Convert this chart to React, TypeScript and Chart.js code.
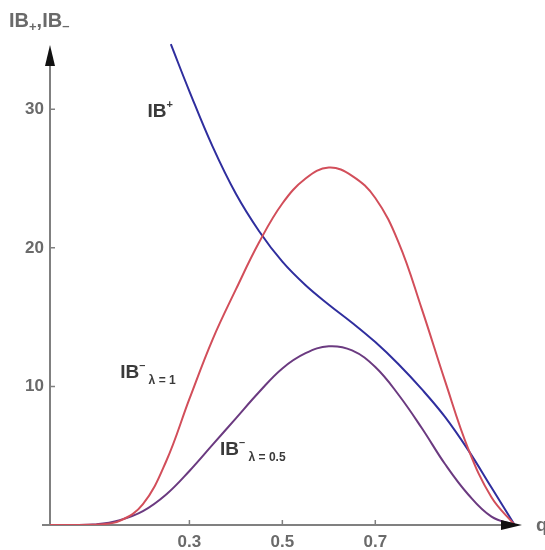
import { useEffect, useRef } from "react";
import { Chart, registerables } from "chart.js";

Chart.register(...registerables);

// q grid for the IB^- curves
const qGrid = [0, 0.05, 0.1, 0.15, 0.2, 0.25, 0.3, 0.35, 0.4, 0.45, 0.5, 0.55, 0.6, 0.65, 0.7, 0.75, 0.8, 0.85, 0.9, 0.95, 1.0];
const ibMinusLambda1 = [0, 0, 0.03, 0.3, 1.5, 4.6, 9.1, 13.4, 17.0, 20.4, 23.2, 25.0, 25.8, 25.2, 23.6, 20.4, 15.6, 10.4, 5.5, 2.0, 0];
const ibMinusLambda05 = [0, 0, 0.05, 0.35, 1.0, 2.2, 3.9, 5.8, 7.7, 9.6, 11.3, 12.4, 12.9, 12.6, 11.4, 9.4, 7.0, 4.4, 2.2, 0.6, 0];

// q grid for the IB^+ curve (enters the plot from the top)
const qPlus = [0.26, 0.3, 0.35, 0.4, 0.45, 0.5, 0.55, 0.6, 0.65, 0.7, 0.75, 0.8, 0.85, 0.9, 0.95, 1.0];
const ibPlus = [34.7, 31.3, 27.3, 23.9, 21.2, 19.0, 17.3, 15.9, 14.6, 13.2, 11.6, 9.8, 7.8, 5.4, 2.7, 0];

const xTicks = [0.3, 0.5, 0.7];
const yTicks = [10, 20, 30];

const FONT = "'Liberation Sans', Arial, Helvetica, sans-serif";
const AXIS_GRAY = "#808080";
const LABEL_GRAY = "#6a6a6a";
const TEXT_DARK = "#3a3a3a";

type Part = { t: string; size: number; dy: number; bold?: boolean };

function drawRich(ctx: CanvasRenderingContext2D, x: number, y: number, parts: Part[], color: string) {
  ctx.save();
  ctx.fillStyle = color;
  ctx.textBaseline = "middle";
  ctx.textAlign = "left";
  let cx = x;
  for (const p of parts) {
    ctx.font = `${p.bold === false ? "" : "bold "}${p.size}px ${FONT}`;
    ctx.fillText(p.t, cx, y + p.dy);
    cx += ctx.measureText(p.t).width;
  }
  ctx.restore();
}

const decorPlugin = {
  id: "decor",
  beforeDatasetsDraw(chart: any) {
    const { ctx, scales } = chart;
    const xs = scales.x;
    const ys = scales.y;
    const x0 = xs.getPixelForValue(0);
    const y0 = ys.getPixelForValue(0);
    ctx.save();
    ctx.strokeStyle = AXIS_GRAY;
    ctx.lineWidth = 2;
    ctx.beginPath();
    ctx.moveTo(x0, y0 + 1);
    ctx.lineTo(x0, 62);
    ctx.moveTo(x0 - 8, y0);
    ctx.lineTo(506, y0);
    ctx.stroke();
    ctx.lineWidth = 1.5;
    ctx.beginPath();
    for (const v of yTicks) {
      const py = ys.getPixelForValue(v);
      ctx.moveTo(x0, py);
      ctx.lineTo(x0 + 5, py);
    }
    for (const v of xTicks) {
      const px = xs.getPixelForValue(v);
      ctx.moveTo(px, y0);
      ctx.lineTo(px, y0 - 5);
    }
    ctx.stroke();
    ctx.restore();
  },
  afterDatasetsDraw(chart: any) {
    const { ctx, scales } = chart;
    const x0 = scales.x.getPixelForValue(0);
    const y0 = scales.y.getPixelForValue(0);
    ctx.save();
    ctx.fillStyle = "#111";
    ctx.beginPath();
    ctx.moveTo(x0, 45);
    ctx.lineTo(x0 - 5, 66);
    ctx.lineTo(x0 + 5, 66);
    ctx.closePath();
    ctx.fill();
    ctx.beginPath();
    ctx.moveTo(522, y0);
    ctx.lineTo(501, y0 - 5);
    ctx.lineTo(501, y0 + 5);
    ctx.closePath();
    ctx.fill();
    ctx.restore();
  },
  afterDraw(chart: any) {
    const { ctx, scales } = chart;
    const xs = scales.x;
    const ys = scales.y;
    drawRich(ctx, 9, 21, [
      { t: "IB", size: 20, dy: 0 },
      { t: "+", size: 13, dy: 6 },
      { t: ",", size: 20, dy: 0 },
      { t: "IB", size: 20, dy: 0 },
      { t: "\u2013", size: 13, dy: 5 },
    ], LABEL_GRAY);
    drawRich(ctx, 536, ys.getPixelForValue(0) + 1, [{ t: "q", size: 19, dy: 0 }], LABEL_GRAY);

    drawRich(ctx, xs.getPixelForValue(0.21), ys.getPixelForValue(29.8), [
      { t: "IB", size: 19, dy: 0 },
      { t: "+", size: 11, dy: -7 },
    ], TEXT_DARK);
    drawRich(ctx, xs.getPixelForValue(0.151), ys.getPixelForValue(11.0), [
      { t: "IB", size: 19, dy: 0 },
      { t: "\u2013", size: 11, dy: -7 },
      { t: " \u03bb = 1", size: 12, dy: 8 },
    ], TEXT_DARK);
    drawRich(ctx, xs.getPixelForValue(0.366), ys.getPixelForValue(5.4), [
      { t: "IB", size: 19, dy: 0 },
      { t: "\u2013", size: 11, dy: -7 },
      { t: " \u03bb = 0.5", size: 12, dy: 8 },
    ], TEXT_DARK);
  },
};

const lineStyle = {
  borderWidth: 2,
  pointRadius: 0,
  fill: false,
  tension: 0.4,
};

export default function App() {
  const ref = useRef<HTMLCanvasElement>(null);
  useEffect(() => {
    const chart = new Chart(ref.current!, {
      type: "line",
      data: {
        datasets: [
          {
            label: "IB- λ=1",
            data: qGrid.map((q, i) => ({ x: q, y: ibMinusLambda1[i] })),
            borderColor: "#d24e5a",
            ...lineStyle,
          },
          {
            label: "IB- λ=0.5",
            data: qGrid.map((q, i) => ({ x: q, y: ibMinusLambda05[i] })),
            borderColor: "#6b3a80",
            ...lineStyle,
          },
          {
            label: "IB+",
            data: qPlus.map((q, i) => ({ x: q, y: ibPlus[i] })),
            borderColor: "#2f2e9e",
            ...lineStyle,
          },
        ],
      },
      options: {
        responsive: false,
        animation: false,
        devicePixelRatio: 1,
        layout: { padding: { top: 40, right: 21, left: 0, bottom: 0 } },
        plugins: { legend: { display: false }, tooltip: { enabled: false } },
        scales: {
          x: {
            type: "linear",
            min: 0,
            max: 1.02,
            grid: { display: false, drawTicks: false },
            border: { display: false },
            ticks: {
              autoSkip: false,
              maxRotation: 0,
              padding: 7,
              color: LABEL_GRAY,
              font: { family: FONT, size: 17, weight: "bold" },
              callback: (v: any) => Number(v).toFixed(1),
            },
            afterBuildTicks: (s: any) => {
              s.ticks = xTicks.map((v) => ({ value: v }));
            },
            afterFit: (s: any) => {
              s.height = 25;
            },
          },
          y: {
            type: "linear",
            min: 0,
            max: 35,
            grid: { display: false, drawTicks: false },
            border: { display: false },
            ticks: {
              autoSkip: false,
              padding: 6,
              color: LABEL_GRAY,
              font: { family: FONT, size: 17, weight: "bold" },
              callback: (v: any) => String(v),
            },
            afterBuildTicks: (s: any) => {
              s.ticks = yTicks.map((v) => ({ value: v }));
            },
            afterFit: (s: any) => {
              s.width = 50;
            },
          },
        },
      },
      plugins: [decorPlugin],
    } as any);
    return () => chart.destroy();
  }, []);
  return (
    <div style={{ position: "fixed", left: 0, top: 0, width: 545, height: 550, background: "#fff" }}>
      <canvas ref={ref} width={545} height={550} style={{ width: 545, height: 550, display: "block" }} />
    </div>
  );
}
